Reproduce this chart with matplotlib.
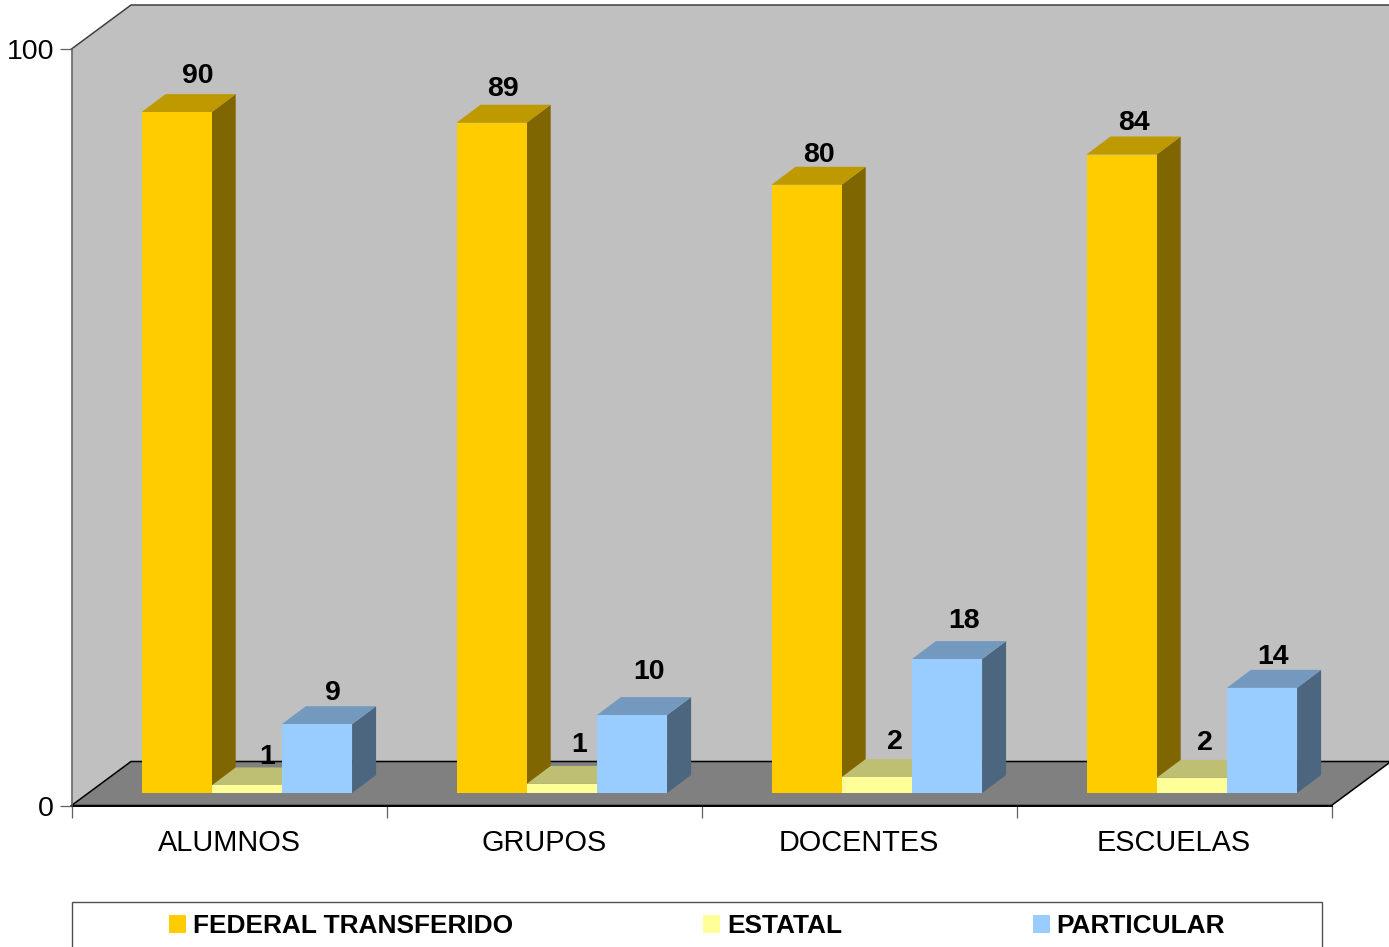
import matplotlib
matplotlib.use("Agg")
import matplotlib.pyplot as plt
from matplotlib.patches import Polygon, Rectangle

plt.rcParams['font.family'] = ['Liberation Sans', 'DejaVu Sans']

categories = ["ALUMNOS", "GRUPOS", "DOCENTES", "ESCUELAS"]
federal = [90.0, 88.6, 80.4, 84.4]
estatal = [1.0, 1.2, 2.1, 2.0]
particular = [9.1, 10.3, 17.7, 13.9]
series_names = ["FEDERAL TRANSFERIDO", "ESTATAL", "PARTICULAR"]

# styles: (front, top, side)
colors = [("#FFCC00", "#BF9900", "#806600"),
          ("#FFFF99", "#BFBF73", "#808040"),
          ("#99CCFF", "#7399BF", "#4D6680")]
# label nudges in pixels (dx from bar centre, dy above bar front top)
nudges = [[(21, 39), (20, 31), (16, 34)],
          [(11, 37), (17, 42), (17, 46)],
          [(12, 33), (18, 38), (17, 41)],
          [(12, 35), (13, 37.5), (11, 34)]]

W, H = 1389, 947
fig = plt.figure(figsize=(W / 100, H / 100), dpi=100, facecolor="white")
L, R, T, B = 71.5, 1331.5, 49.0, 805.5
ax = fig.add_axes([L / W, 1 - B / H, (R - L) / W, (B - T) / H])
ax.set_xlim(0, 4)
ax.set_ylim(0, 100)
ax.patch.set_visible(False)

ux = (R - L) / 4      # pixels per category
uy = (B - T) / 100    # pixels per value unit
dxw, dyw = 59.5 / ux, 44.0 / uy      # wall depth
dxb, dyb = 24.0 / ux, 18.0 / uy      # bar depth
dyf = 12.5 / uy                      # bar front plane above the floor edge
bar_w = 70.2 / ux
bar_x0 = 70.0 / ux


def poly(pts, fc, ec="none", lw=0, z=1):
    ax.add_patch(Polygon(pts, closed=True, facecolor=fc, edgecolor=ec,
                         linewidth=lw, clip_on=False, zorder=z))


# walls and floor
poly([(0, 0), (0, 100), (dxw, 100 + dyw), (4 + dxw, 100 + dyw),
      (4 + dxw, dyw), (4, 0)], "#C0C0C0", z=1)
poly([(0, 0), (dxw, dyw), (4 + dxw, dyw), (4, 0)], "#808080", z=1.5)
ax.plot([0, dxw, 4 + dxw, 4, 0], [0, dyw, dyw, 0, 0], color="black", lw=1.1,
        clip_on=False, zorder=1.6)
ax.plot([0, dxw, 4 + dxw], [100, 100 + dyw, 100 + dyw], color="#404040", lw=1.1,
        clip_on=False, zorder=1.6)

# bars
z = 2
for i, cat in enumerate(categories):
    for j, vals in enumerate((federal, estatal, particular)):
        v = vals[i]
        x0 = i + bar_x0 + j * bar_w
        x1 = x0 + bar_w
        y0 = dyf
        y1 = dyf + v
        front, top, side = colors[j]
        poly([(x1, y0), (x1 + dxb, y0 + dyb), (x1 + dxb, y1 + dyb), (x1, y1)], side, z=z)
        poly([(x0, y1), (x1, y1), (x1 + dxb, y1 + dyb), (x0 + dxb, y1 + dyb)], top, z=z)
        poly([(x0, y0), (x1, y0), (x1, y1), (x0, y1)], front, z=z + 0.1)
        nx, ny = nudges[i][j]
        ax.text((x0 + x1) / 2 + nx / ux, y1 + ny / uy, f"{v:.0f}", ha="center",
                va="center_baseline", fontsize=20.5, fontweight="bold", color="black",
                clip_on=False, zorder=50)
        z += 0.2

# axes furniture
for s in ("top", "right"):
    ax.spines[s].set_visible(False)
ax.spines["left"].set_color("#606060")
ax.spines["left"].set_linewidth(1.1)
ax.spines["bottom"].set_color("black")
ax.spines["bottom"].set_linewidth(1.4)
ax.spines["bottom"].set_zorder(1.7)
ax.set_yticks([0, 100])
ax.set_yticklabels(["0", "100"], fontsize=20.5)
ax.tick_params(axis="y", length=8.6, width=0.9, color="#606060", pad=4)
ax.set_xticks([0, 1, 2, 3, 4])
ax.set_xticklabels([])
ax.tick_params(axis="x", which="major", length=8.6, width=0.9, color="#606060")
ax.set_xticks([0.5, 1.5, 2.5, 3.5], minor=True)
ax.set_xticklabels(categories, minor=True, fontsize=20.8)
ax.tick_params(axis="x", which="minor", length=0, pad=17)

# legend
fig.add_artist(Rectangle((71.5 / W, -0.05), (1321.7 - 71.5) / W, 0.05 + 1 - 901.7 / H,
                         transform=fig.transFigure, facecolor="white",
                         edgecolor="#505050", linewidth=1.0))
handles = [Rectangle((0, 0), 1, 1, facecolor=c[0]) for c in colors]
leg = fig.legend(handles, series_names, ncol=3, loc="upper left",
                 bbox_to_anchor=(169 / W, 1 - 914 / H), frameon=False,
                 borderpad=0, borderaxespad=0, handlelength=0.65, handleheight=0.65,
                 handletextpad=0.27, columnspacing=7.24,
                 prop={"size": 18.9, "weight": "bold"})
leg.set_zorder(60)

fig.savefig("out.png", dpi=100)
